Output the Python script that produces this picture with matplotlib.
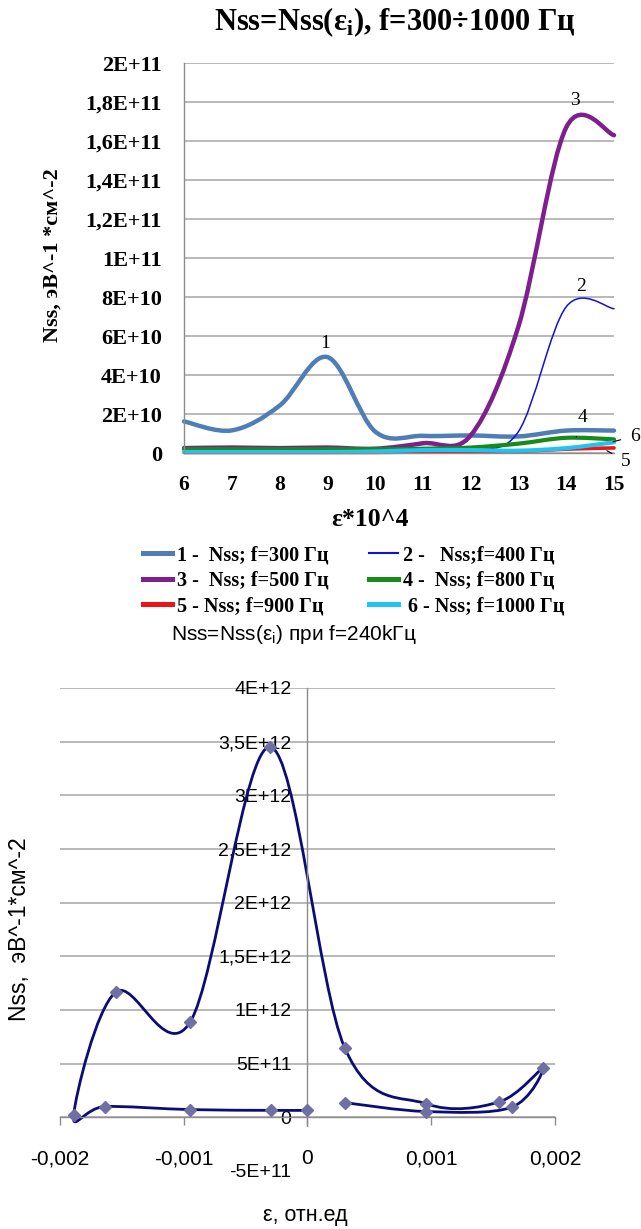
import numpy as np
import matplotlib
matplotlib.use('Agg')
import matplotlib.pyplot as plt
from matplotlib.path import Path
from matplotlib.patches import PathPatch
from matplotlib.lines import Line2D

plt.rcParams['font.family'] = ['Liberation Serif', 'DejaVu Serif']

# ---- верхний график: Nss(eps), f = 300..1000 Гц ----
eps_top = [6, 7, 8, 9, 10, 11, 12, 13, 14, 15]
nss_300 = [1.62e10, 1.16e10, 2.43e10, 4.92e10, 1.10e10, 0.88e10, 0.90e10, 0.85e10, 1.15e10, 1.15e10]
nss_400 = [0.20e10, 0.20e10, 0.20e10, 0.20e10, 0.20e10, 0.20e10, 0.20e10, 1.10e10, 7.50e10, 7.40e10]
nss_500 = [0.25e10, 0.28e10, 0.25e10, 0.28e10, 0.22e10, 0.50e10, 0.90e10, 6.50e10, 16.7e10, 16.3e10]
nss_800 = [0.20e10, 0.20e10, 0.20e10, 0.20e10, 0.20e10, 0.22e10, 0.28e10, 0.48e10, 0.78e10, 0.70e10]
nss_900 = [0.03e10, 0.03e10, 0.03e10, 0.03e10, 0.03e10, 0.05e10, 0.05e10, 0.08e10, 0.20e10, 0.26e10]
nss_1000 = [0.05e10, 0.05e10, 0.05e10, 0.05e10, 0.08e10, 0.15e10, 0.15e10, 0.12e10, 0.25e10, 0.55e10]

top_series = [nss_300, nss_400, nss_500, nss_800, nss_900, nss_1000]
top_labels = ['1 -  Nss; f=300 Гц', '2 -   Nss;f=400 Гц', '3 -  Nss; f=500 Гц',
              '4 -  Nss; f=800 Гц', '5 - Nss; f=900 Гц', ' 6 - Nss; f=1000 Гц']
top_colors = ['#4F7DB5', '#1010DC', '#7E1F8E', '#188A18', '#EE1414', '#20C4F0']
top_widths = [3.2, 1.1, 3.2, 3.0, 2.6, 3.0]

top_yticks = [0, 2e10, 4e10, 6e10, 8e10, 1e11, 1.2e11, 1.4e11, 1.6e11, 1.8e11, 2e11]
top_ylabels = ['0', '2E+10', '4E+10', '6E+10', '8E+10', '1E+11',
               '1,2E+11', '1,4E+11', '1,6E+11', '1,8E+11', '2E+11']

# ---- нижний график: Nss(eps) при f = 240 кГц (петля) ----
eps_240 = [0.0, -0.000295, -0.00095, -0.00164, -0.00189, -0.00155, -0.00095, -0.0003,
           0.0003, 0.00096, 0.00155, 0.0019, 0.00165, 0.00096, 0.0003]
nss_240 = [6.5e10, 6.5e10, 7.2e10, 1.0e11, 2.2e10, 1.166e12, 8.84e11, 3.45e12,
           6.5e11, 1.26e11, 1.44e11, 4.55e11, 9.4e10, 5.4e10, 1.37e11]

bot_xticks = [-0.002, -0.001, 0, 0.001, 0.002]
bot_xlabels = ['-0,002', '-0,001', '0', '0,001', '0,002']
bot_yticks = [-5e11, 0, 5e11, 1e12, 1.5e12, 2e12, 2.5e12, 3e12, 3.5e12, 4e12]
bot_ylabels = ['-5E+11', '0', '5E+11', '1E+12', '1,5E+12', '2E+12',
               '2,5E+12', '3E+12', '3,5E+12', '4E+12']


def smooth_path(xs, ys):
    """сглаживание как в Excel (Catmull-Rom -> Безье)"""
    p = np.column_stack([xs, ys]).astype(float)
    n = len(p)
    verts = [p[0]]
    codes = [Path.MOVETO]
    for i in range(n - 1):
        p_prev = p[i - 1] if i > 0 else p[i]
        p_next2 = p[i + 2] if i + 2 < n else p[i + 1]
        c1 = p[i] + (p[i + 1] - p_prev) / 6
        c2 = p[i + 1] - (p_next2 - p[i]) / 6
        verts += [c1, c2, p[i + 1]]
        codes += [Path.CURVE4] * 3
    return Path(verts, codes)


fig = plt.figure(figsize=(6.41, 12.29), dpi=100)
fig.patch.set_facecolor('white')

# ================= верхний =================
ax1 = fig.add_axes([0.2871, 0.6314, 0.6708, 0.3173])
ax1.set_xlim(6, 15)
ax1.set_ylim(0, 2e11)
for spine in ['top', 'right']:
    ax1.spines[spine].set_visible(False)
for spine in ['left', 'bottom']:
    ax1.spines[spine].set_color('#8C8C8C')
    ax1.spines[spine].set_linewidth(1.0)
ax1.set_axisbelow(True)
ax1.yaxis.grid(True, color='#A6A6A6', lw=1.1)
ax1.set_xticks(eps_top)
ax1.set_xticklabels([str(v) for v in eps_top], fontsize=15.5, fontweight='bold')
ax1.set_yticks(top_yticks)
ax1.set_yticklabels(top_ylabels, fontsize=16, fontweight='bold')
ax1.tick_params(axis='x', length=0, pad=16)
ax1.tick_params(axis='y', length=0, pad=16)

handles = []
for vals, col, lw in zip(top_series, top_colors, top_widths):
    patch = PathPatch(smooth_path(eps_top, vals), fill=False, edgecolor=col, lw=lw,
                      capstyle='round', joinstyle='round', clip_on=False)
    ax1.add_patch(patch)
    handles.append(Line2D([], [], color=col, lw=3.6 if lw > 2 else 1.5))

# номера кривых
ax1.text(8.95, 5.64e10, '1', fontsize=14, ha='center', va='center')
ax1.text(14.18, 18.1e10, '3', fontsize=14, ha='center', va='center')
ax1.text(14.32, 8.56e10, '2', fontsize=14, ha='center', va='center')
ax1.annotate('4', xy=(14.21, 0.82e10), xytext=(14.34, 1.83e10), fontsize=14,
             ha='center', va='center', annotation_clip=False,
             arrowprops=dict(arrowstyle='-', color='black', lw=0.8, shrinkA=6, shrinkB=0))
ax1.annotate('6', xy=(14.98, 0.58e10), xytext=(15.44, 0.87e10), fontsize=14,
             ha='center', va='center', annotation_clip=False,
             arrowprops=dict(arrowstyle='-', color='black', lw=0.8, shrinkA=5, shrinkB=0))
ax1.annotate('5', xy=(14.85, 0.12e10), xytext=(15.24, -0.41e10), fontsize=14,
             ha='center', va='center', annotation_clip=False,
             arrowprops=dict(arrowstyle='-', color='black', lw=0.8, shrinkA=5, shrinkB=0))

fig.text(0.616, 0.982, 'Nss=Nss(ε$_\\mathregular{i}$), f=300÷1000 Гц',
         fontsize=22, fontweight='bold', ha='center', va='center')
fig.text(0.0827, 0.7925, 'Nss, эВ^-1 *см^-2', fontsize=16, fontweight='bold',
         rotation=90, ha='center', va='center')
fig.text(0.577, 0.577, 'ε*10^4', fontsize=18.5, fontweight='bold',
         ha='center', va='center')

order = [0, 2, 4, 1, 3, 5]
fig.legend([handles[i] for i in order], [top_labels[i] for i in order],
           ncol=2, loc='upper left', bbox_to_anchor=(0.2231, 0.5562),
           frameon=False, borderpad=0, borderaxespad=0,
           prop={'family': ['Liberation Serif', 'DejaVu Serif'], 'weight': 'bold', 'size': 14.5},
           handlelength=1.45, handletextpad=0.25, columnspacing=2.0, labelspacing=0.27)

# ================= нижний =================
sans = ['Liberation Sans', 'DejaVu Sans']
ax2 = fig.add_axes([0.0936, 0.0472, 0.7722, 0.3930])
ax2.set_xlim(-0.002, 0.002)
ax2.set_ylim(-5e11, 4e12)
for spine in ['top', 'right']:
    ax2.spines[spine].set_visible(False)
ax2.spines['left'].set_position(('data', 0))
ax2.spines['bottom'].set_position(('data', 0))
for spine in ['left', 'bottom']:
    ax2.spines[spine].set_color('#8C8C8C')
    ax2.spines[spine].set_linewidth(1.0)
ax2.spines['left'].set_bounds(-8e10, 4e12)
ax2.set_axisbelow(True)
ax2.hlines([v for v in bot_yticks if v >= 0], -0.002, 0.002, colors='#A6A6A6', lw=1.1, zorder=0)

ax2.set_xticks(bot_xticks)
ax2.set_xticklabels(bot_xlabels, fontsize=15, family=sans)
ax2.set_yticks(bot_yticks)
ax2.set_yticklabels(bot_ylabels, fontsize=14, family=sans)
ax2.tick_params(axis='x', direction='out', length=6, width=1, color='#8C8C8C', pad=17)
ax2.tick_params(axis='y', length=0, pad=11.5)

ax2.add_patch(PathPatch(smooth_path(eps_240, nss_240), fill=False, edgecolor='#0C0C78',
                        lw=2.0, capstyle='round', joinstyle='round', clip_on=False))
ax2.plot(eps_240, nss_240, 'D', color='#6F6FA3', ms=6.5, ls='none', clip_on=False, zorder=3)

fig.text(0.4587, 0.4841, 'Nss=Nss(ε$_\\mathregular{i}$) при f=240kГц', fontsize=15,
         family=sans, ha='center', va='center')
fig.text(0.476, 0.0106, 'ε, отн.ед', fontsize=15.5, family=sans, ha='center', va='center')
fig.text(0.031, 0.244, 'Nss,  эВ^-1*см^-2', fontsize=16.5, family=sans,
         rotation=90, ha='center', va='center')

fig.savefig('out.png', dpi=100, facecolor='white')
